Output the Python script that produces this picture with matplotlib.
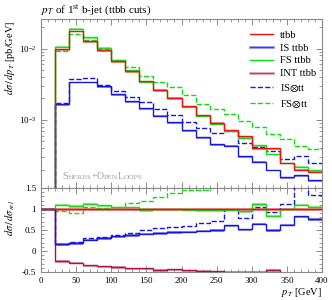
import numpy as np
import matplotlib
matplotlib.use("Agg")
import matplotlib.pyplot as plt
from matplotlib.lines import Line2D
from matplotlib.offsetbox import TextArea, HPacker, AnchoredOffsetbox
from matplotlib.ticker import MultipleLocator, LogLocator, NullFormatter, FixedLocator, FuncFormatter

plt.rcParams['font.family'] = ['Liberation Serif', 'DejaVu Serif']
plt.rcParams['mathtext.fontset'] = 'stix'

# ---- data (bin edges in GeV, dsigma/dpT in pb/GeV) ----
edges = [0, 20, 40, 60, 80, 100, 120, 140, 160, 180, 200,
         220, 240, 260, 280, 300, 320, 340, 360, 380, 400]
ttbb = [0, 9.7e-3, 1.77e-2, 1.27e-2, 9.5e-3, 6.6e-3, 4.8e-3, 3.5e-3, 2.65e-3, 2.04e-3,
        1.54e-3, 1.17e-3, 9.1e-4, 7.1e-4, 5.9e-4, 3.95e-4, 3.95e-4, 2.48e-4, 1.99e-4, 1.87e-4]
is_ttbb = [0, 1.65e-3, 3.4e-3, 3.4e-3, 2.95e-3, 2.28e-3, 1.82e-3, 1.45e-3, 1.14e-3, 9.3e-4,
           7.1e-4, 5.7e-4, 4.55e-4, 4.33e-4, 3.07e-4, 2.57e-4, 1.98e-4, 1.56e-4, 1.65e-4, 1.42e-4]
fs_ttbb = [0, 1.067e-2, 1.894e-2, 1.435e-2, 1.031e-2, 6.86e-3, 4.99e-3, 3.40e-3, 2.62e-3, 2.02e-3,
           1.52e-3, 1.135e-3, 8.8e-4, 7.0e-4, 5.6e-4, 4.42e-4, 3.32e-4, 2.48e-4, 2.19e-4, 1.96e-4]
int_ttbb = [0, -2.33e-3, -4.96e-3, -4.32e-3, -3.47e-3, -2.51e-3, -1.97e-3, -1.44e-3, -1.19e-3, -8.98e-4,
            -7.08e-4, -5.5e-4, -4.37e-4, -3.48e-4, -2.89e-4, -1.98e-4, -1.78e-4, -1.29e-4, -1.09e-4, -1.03e-4]
is_tt = [0, 1.7e-3, 3.72e-3, 3.81e-3, 3.1e-3, 2.5e-3, 2.06e-3, 1.75e-3, 1.43e-3, 1.18e-3,
         9.2e-4, 7.7e-4, 6.5e-4, 7.0e-4, 4.7e-4, 4.1e-4, 3.63e-4, 2.8e-4, 3.1e-4, 2.5e-4]
fs_tt = [0, 9.31e-3, 1.60e-2, 1.33e-2, 9.79e-3, 6.86e-3, 5.47e-3, 4.15e-3, 3.42e-3, 2.84e-3,
         2.22e-3, 1.69e-3, 1.40e-3, 1.22e-3, 9.5e-4, 8.0e-4, 6.3e-4, 5.4e-4, 4.24e-4, 3.9e-4]

labels = ["ttbb", "IS ttbb", "FS ttbb", "INT ttbb", r"IS$\otimes$tt", r"FS$\otimes$tt"]

C_RED, C_RED_B = "#ee1111", "#f09090"
C_BLUE, C_BLUE_B = "#1515e6", "#9090f5"
C_GREEN, C_GREEN_B = "#11dd11", "#90f090"
C_INT, C_INT_B = "#b0103c", "#e89aae"

edges = np.array(edges, float)
ref = np.array(ttbb, float)

def ratio(v):
    v = np.array(v, float)
    out = np.ones_like(v)
    m = ref != 0
    out[m] = v[m] / ref[m]
    return out

fig = plt.figure(figsize=(3.32, 3.0), dpi=100)
ax = fig.add_axes([41/332, 1-188/300, 281/332, 169/300])
rx = fig.add_axes([41/332, 1-272/300, 281/332, 84/300], sharex=ax)

def band_main(a, v, col, rel=0.05):
    v = np.array(v, float)
    a.stairs(np.where(v > 0, v*(1+0.01), np.nan), edges, baseline=np.where(v > 0, v*(1-rel), np.nan),
             fill=True, color=col, lw=0, zorder=1)

# main panel
series = [
    (fs_tt, C_GREEN, None, '--'),
    (is_tt, C_BLUE, None, '--'),
    (fs_ttbb, C_GREEN, C_GREEN_B, '-'),
    (is_ttbb, C_BLUE, C_BLUE_B, '-'),
    (ttbb, C_RED, C_RED_B, '-'),
]
for v, c, cb, ls in series:
    vv = np.array(v, float)
    if cb is not None:
        band_main(ax, vv, cb)
    ax.stairs(np.where(vv > 0, vv, 1e-9), edges, color=c, lw=1.0, ls=ls, baseline=None, zorder=3)

ax.set_yscale('log')
ax.set_ylim(1.1e-4, 2.6e-2)
ax.set_xlim(0, 400)

# ratio panel
rser = [
    (fs_tt, C_GREEN, None, '--'),
    (is_tt, C_BLUE, None, '--'),
    (int_ttbb, C_INT, C_INT_B, '-'),
    (fs_ttbb, C_GREEN, C_GREEN_B, '-'),
    (is_ttbb, C_BLUE, C_BLUE_B, '-'),
    (ttbb, C_RED, C_RED_B, '-'),
]
for v, c, cb, ls in rser:
    r = ratio(v)
    if cb is not None:
        rx.stairs(r + 0.015, edges, baseline=r - 0.04, fill=True, color=cb, lw=0, zorder=1)
    rx.stairs(r, edges, color=c, lw=1.0, ls=ls, baseline=None, zorder=3)
rx.set_ylim(-0.5, 1.5)
rx.set_xlim(0, 400)

gcol = '#8a8a8a'
for a in (ax, rx):
    for s in a.spines.values():
        s.set_color(gcol)
        s.set_linewidth(0.8)
    a.tick_params(which='both', direction='in', top=True, right=True, color=gcol, labelsize=6.5)
    a.tick_params(which='major', length=4.5, width=0.7)
    a.tick_params(which='minor', length=2.5, width=0.6)
    a.xaxis.set_major_locator(MultipleLocator(50))
    a.xaxis.set_minor_locator(MultipleLocator(10))

ax.tick_params(labelbottom=False)
ax.yaxis.set_major_locator(LogLocator(base=10, numticks=10))
ax.yaxis.set_minor_locator(LogLocator(base=10, subs=np.arange(2, 10), numticks=10))
ax.yaxis.set_minor_formatter(NullFormatter())

rx.yaxis.set_major_locator(FixedLocator([-0.5, 0, 0.5, 1, 1.5]))
rx.yaxis.set_minor_locator(MultipleLocator(0.1))
rx.yaxis.set_major_formatter(FuncFormatter(lambda v, p: '%g' % v))
rx.set_xlabel(r"$p_T$ [GeV]", loc='right', fontsize=7.5, labelpad=1)

fig.text(10/332, 1-58/300, r"$d\sigma\,/\,dp_T$ [pb/GeV]", rotation=90, ha='center', va='center', fontsize=7.5)
fig.text(10/332, 1-218/300, r"$d\sigma\,/\,d\sigma_{rel}$", rotation=90, ha='center', va='center', fontsize=7.5)
fig.text(41/332, 1-10/300, r"$p_T$ of 1$^{\rm st}$ b-jet (ttbb cuts)", ha='left', va='center', fontsize=8)

# legend
h = [
    Line2D([], [], color=C_RED, lw=1.0),
    (Line2D([], [], color=C_BLUE_B, lw=2.0), Line2D([], [], color=C_BLUE, lw=0.5)),
    Line2D([], [], color=C_GREEN, lw=1.0),
    (Line2D([], [], color=C_INT_B, lw=2.0), Line2D([], [], color=C_INT, lw=0.5)),
    Line2D([], [], color=C_BLUE, lw=1.0, ls='--'),
    Line2D([], [], color=C_GREEN, lw=1.0, ls='--'),
]
ax.legend(h, labels, loc='upper right', bbox_to_anchor=(1.0, 0.97), frameon=False, fontsize=7.5,
          handlelength=2.2, handletextpad=0.6, labelspacing=0.35, borderaxespad=0.2)

# generator label in small caps
def sc(word, big=7.0, small=5.4):
    return [TextArea(word[0], textprops=dict(size=big, color='#a0a0a0')),
            TextArea(word[1:].upper(), textprops=dict(size=small, color='#a0a0a0'))]
parts = sc("Sherpa") + [TextArea("+", textprops=dict(size=7.0, color='#a0a0a0'))] + \
        sc("Open") + sc("Loops")
pk = HPacker(children=parts, align='baseline', pad=0, sep=0)
ab = AnchoredOffsetbox(loc='lower left', child=pk, pad=0, frameon=False,
                       bbox_to_anchor=(0.075, 0.04), bbox_transform=ax.transAxes, borderpad=0)
ax.add_artist(ab)

fig.savefig("out.png", dpi=100)
